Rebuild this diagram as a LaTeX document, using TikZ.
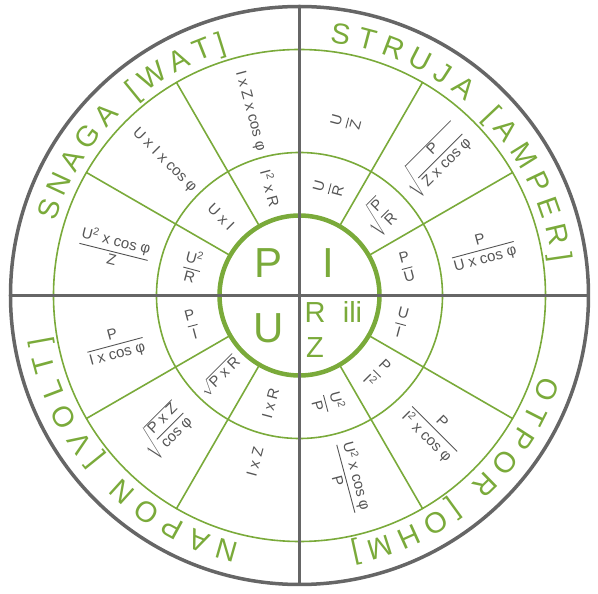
\documentclass[tikz,border=0pt]{standalone}
\usepackage{amsmath}
\usepackage{fontspec}
\setmainfont{Liberation Sans}
\usepackage{xcolor}
\usepackage{tikz}
\usetikzlibrary{positioning}
\usetikzlibrary{decorations.text}

\definecolor{vgreen}{RGB}{122,170,58}
\definecolor{lgray}{RGB}{102,102,102}
\definecolor{tgray}{RGB}{85,85,85}
\newcommand{\frc}[2]{\genfrac{}{}{0.9pt}{0}{\text{#1}}{\text{#2}}}
\newcommand{\ringfont}{\fontsize{29}{29}\selectfont}

\begin{document}
\begin{tikzpicture}[x=1pt, y=1pt,
  grayline/.style={draw=lgray, line width=3.5pt},
  greenline/.style={draw=vgreen, line width=1.6pt},
  formula/.style={text=tgray, font=\fontsize{15}{17}\selectfont, inner sep=1pt},
  bigletter/.style={text=vgreen, font=\fontsize{42}{42}\selectfont, inner sep=0pt},
  midletter/.style={text=vgreen, font=\fontsize{29}{29}\selectfont, inner sep=0pt},
  rim/.style={decorate, decoration={text along path, text align=fit to path, text color=vgreen}}]
  \useasboundingbox (-299.5,-298.5) rectangle (298.5,295.5);
  \coordinate (O) at (0,0);

  % Circulos verdes
  \draw[greenline] (O) circle[radius=246];
  \draw[greenline] (O) circle[radius=143];
  \draw[greenline, line width=4.5pt] (O) circle[radius=80];

  % Lineas radiales
  \foreach \a in {30,60,120,150,210,240,300,330}
    \draw[greenline] (\a:80) -- (\a:246);

  % Ejes y borde
  \draw[grayline] (180:289) -- (0:289);
  \draw[grayline] (270:289) -- (90:289);
  \draw[grayline] (O) circle[radius=289];

  % Textos del anillo
  \path[rim, decoration={text={|\ringfont|SNAGA [WAT]}}]
    (163.2:255) arc[start angle=163.2, end angle=106.4, radius=255];
  \path[rim, decoration={text={|\ringfont|STRUJA [AMPER]}}]
    (83.2:255) arc[start angle=83.2, end angle=7.4, radius=255];
  \path[rim, decoration={text={|\ringfont|OTPOR [OHM]}}]
    (-18.3:255) arc[start angle=-18.3, end angle=-78.5, radius=255];
  \path[rim, decoration={text={|\ringfont|NAPON [VOLT]}}]
    (256.5:255) arc[start angle=256.5, end angle=189.4, radius=255];

  % Centro
  \node[bigletter] (P) at (-30.5,32.5) {P};
  \node[bigletter] (I) at (28.5,32.5) {I};
  \node[bigletter] (U) at (-30.5,-32.5) {U};
  \node[midletter] (R) at (15.5,-17.5) {R};
  \node[midletter, base right=17pt of R] (ili) {ili};
  \node[midletter, below=14pt of R] (Z) {Z};

  % Snaga
  \node[formula, rotate=-75] (p1) at (105:111) {I\textsuperscript{2} x R};
  \node[formula, rotate=-45] (p2) at (135:111) {U x I};
  \node[formula, rotate=-15] (p3) at (165:111) {$\frc{U\textsuperscript{2}}{R}$};
  \node[formula, rotate=-75] (p4) at (105:191) {I x Z x cos φ};
  \node[formula, rotate=-45] (p5) at (135:191) {U x I x cos φ};
  \node[formula, rotate=-14] (p6) at (166:191) {$\frc{U\textsuperscript{2} x cos φ}{Z}$};

  % Struja
  \node[formula, rotate=75] (i1) at (75:111) {$\frc{U}{R}$};
  \node[formula, rotate=45] (i2) at (45:111) {$\sqrt{\frc{P}{R}}$};
  \node[formula, rotate=15] (i3) at (15:111) {$\frc{P}{U}$};
  \node[formula, rotate=75] (i4) at (75:179) {$\frc{U}{Z}$};
  \node[formula, rotate=45] (i5) at (45:191) {$\sqrt{\frc{P}{Z x cos φ}}$};
  \node[formula, rotate=15] (i6) at (14:189) {$\frc{P}{U x cos φ}$};

  % Napon
  \node[formula, rotate=15] (u1) at (195:111) {$\frc{P}{I}$};
  \node[formula, rotate=45] (u2) at (225:113) {$\sqrt{\text{P x R}}$};
  \node[formula, rotate=75] (u3) at (255:112) {I x R};
  \node[formula, rotate=15] (u4) at (195:191) {$\frc{P}{I x cos φ}$};
  \node[formula, rotate=45] (u5) at (225:191) {$\sqrt{\frc{P x Z}{cos φ}}$};
  \node[formula, rotate=75] (u6) at (255:172) {I x Z};

  % Otpor
  \node[formula, rotate=-15] (r1) at (345:105) {$\frc{U}{I}$};
  \node[formula, rotate=-45] (r2) at (315:110) {$\frc{P}{I\textsuperscript{2}}$};
  \node[formula, rotate=-75] (r3) at (285:111) {$\frc{U\textsuperscript{2}}{P}$};
  \node[formula, rotate=-45] (r4) at (315:190) {$\frc{P}{I\textsuperscript{2} x cos φ}$};
  \node[formula, rotate=-75] (r5) at (285:189) {$\frc{U\textsuperscript{2} x cos φ}{P}$};
\end{tikzpicture}
\end{document}
